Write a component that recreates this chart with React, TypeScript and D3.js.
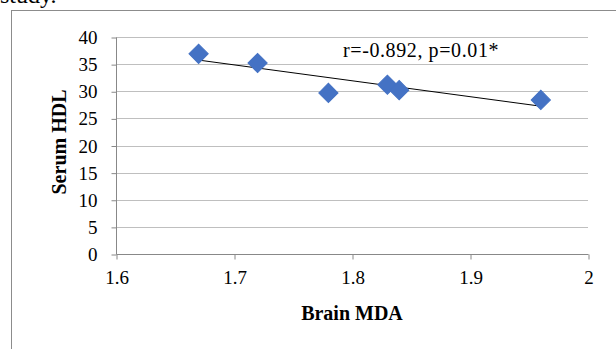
import { useRef, useEffect } from "react";
import * as d3 from "d3";

const brainMDA = [1.67, 1.72, 1.78, 1.83, 1.84, 1.96];
const serumHDL = [36.9, 35.2, 29.7, 31.2, 30.2, 28.4];
const xTicks = [1.6, 1.7, 1.8, 1.9, 2];
const yTicks = [0, 5, 10, 15, 20, 25, 30, 35, 40];
const annotation = "r=-0.892, p=0.01*";

export default function App() {
  const svgRef = useRef<SVGSVGElement>(null);

  useEffect(() => {
    if (!svgRef.current) return;
    const svg = d3.select(svgRef.current);
    svg.selectAll("*").remove();

    const width = 616;
    const height = 349;
    const font = "'Liberation Serif', 'Times New Roman', serif";

    // clipped caption from the page above
    svg.append("text")
      .attr("x", 0)
      .attr("y", 3)
      .attr("font-family", font)
      .attr("font-size", "24px")
      .attr("fill", "#000")
      .text("study.");

    // outer chart frame
    svg.append("rect")
      .attr("x", 11.5)
      .attr("y", 10.5)
      .attr("width", 700)
      .attr("height", 400)
      .attr("fill", "#fff")
      .attr("stroke", "#8c8c8c")
      .attr("stroke-width", 1);

    const x = d3.scaleLinear().domain([1.6, 2]).range([116, 588]);
    const y = d3.scaleLinear().domain([0, 40]).range([254, 37]);

    // horizontal gridlines
    svg.selectAll(".grid")
      .data(yTicks.filter((d) => d > 0))
      .join("line")
      .attr("x1", x(1.6))
      .attr("x2", x(2))
      .attr("y1", (d) => Math.round(y(d)) + 0.5)
      .attr("y2", (d) => Math.round(y(d)) + 0.5)
      .attr("stroke", "#bfbfbf")
      .attr("stroke-width", 1);

    // y axis
    const yAxis = svg.append("g")
      .attr("transform", `translate(${x(1.6) + 0.5},0.5)`)
      .call(d3.axisLeft(y).tickValues(yTicks).tickSize(5).tickPadding(14).tickFormat(d3.format("d")));
    yAxis.select(".domain").attr("stroke", "#888").attr("d", `M0,${y(0)}V${y(40)}`);
    yAxis.selectAll(".tick line").attr("stroke", "#888");
    yAxis.selectAll("text")
      .attr("font-family", font)
      .attr("font-size", "19px")
      .attr("fill", "#000");

    // x axis
    const xAxis = svg.append("g")
      .attr("transform", `translate(0.5,${Math.round(y(0)) + 0.5})`)
      .call(d3.axisBottom(x).tickValues(xTicks).tickSize(5).tickPadding(11).tickFormat((d) => String(d)));
    xAxis.select(".domain").attr("stroke", "#888").attr("d", `M${x(1.6)},0H${x(2)}`);
    xAxis.selectAll(".tick line").attr("stroke", "#888");
    xAxis.selectAll("text")
      .attr("font-family", font)
      .attr("font-size", "19px")
      .attr("fill", "#000");

    // trend line (least squares)
    const mx = d3.mean(brainMDA) as number;
    const my = d3.mean(serumHDL) as number;
    const sxy = d3.sum(brainMDA, (v, i) => (v - mx) * (serumHDL[i] - my));
    const sxx = d3.sum(brainMDA, (v) => (v - mx) ** 2);
    const slope = sxy / sxx;
    const intercept = my - slope * mx;
    const x0 = d3.min(brainMDA) as number;
    const x1 = d3.max(brainMDA) as number;
    svg.append("line")
      .attr("x1", x(x0))
      .attr("y1", y(intercept + slope * x0))
      .attr("x2", x(x1))
      .attr("y2", y(intercept + slope * x1))
      .attr("stroke", "#000")
      .attr("stroke-width", 1);

    // diamond markers
    const diamond = d3.symbol().type(d3.symbolSquare).size(185);
    svg.selectAll(".pt")
      .data(brainMDA.map((v, i) => ({ bx: v, hy: serumHDL[i] })))
      .join("path")
      .attr("d", diamond)
      .attr("transform", (d) => `translate(${x(d.bx)},${y(d.hy)}) rotate(45)`)
      .attr("fill", "#4472c4")
      .attr("stroke", "#4472c4")
      .attr("stroke-width", 1);

    // annotation
    svg.append("text")
      .attr("x", 343)
      .attr("y", 57)
      .attr("font-family", font)
      .attr("font-size", "20px")
      .attr("letter-spacing", "0.6px")
      .attr("fill", "#000")
      .text(annotation);

    // axis titles
    svg.append("text")
      .attr("x", (x(1.6) + x(2)) / 2)
      .attr("y", 320)
      .attr("text-anchor", "middle")
      .attr("font-family", font)
      .attr("font-size", "20px")
      .attr("font-weight", "bold")
      .attr("fill", "#000")
      .text("Brain MDA");

    svg.append("text")
      .attr("transform", `translate(66,142) rotate(-90)`)
      .attr("text-anchor", "middle")
      .attr("font-family", font)
      .attr("font-size", "20px")
      .attr("font-weight", "bold")
      .attr("fill", "#000")
      .text("Serum HDL");

    svg.attr("viewBox", `0 0 ${width} ${height}`);
  }, []);

  return (
    <svg
      ref={svgRef}
      width={616}
      height={349}
      style={{ position: "fixed", left: 0, top: 0, display: "block", background: "#fff" }}
    />
  );
}
